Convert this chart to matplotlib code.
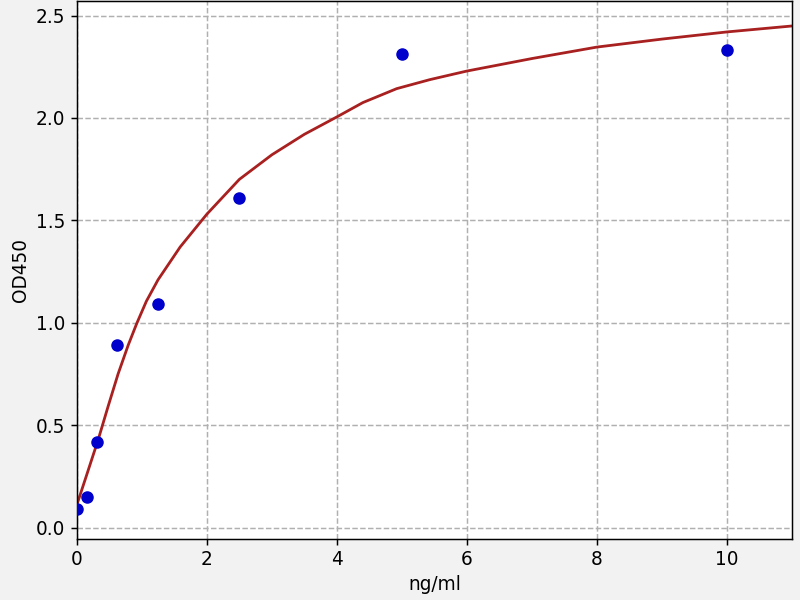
import matplotlib
matplotlib.use("Agg")
import matplotlib.pyplot as plt

# standard points
conc = [0, 0.156, 0.3125, 0.625, 1.25, 2.5, 5, 10]
od = [0.09, 0.15, 0.42, 0.89, 1.09, 1.61, 2.31, 2.33]

# fitted curve
curve_x = [0, 0.15, 0.33, 0.48, 0.635, 0.79, 0.92, 1.07, 1.25, 1.59, 2.0, 2.5,
           3.0, 3.5, 4.0, 4.4, 4.92, 5.43, 6.0, 7, 8, 9, 10, 11]
curve_y = [0.11, 0.255, 0.43, 0.59, 0.75, 0.89, 0.995, 1.105, 1.21, 1.37, 1.53, 1.70,
           1.82, 1.92, 2.005, 2.075, 2.143, 2.187, 2.229, 2.29, 2.346, 2.385, 2.42, 2.449]

s = 4 / 3  # picture looks like a 6x4.5in figure blown up to 800x600
plt.rcParams['font.size'] = 10 * s
plt.rcParams['axes.linewidth'] = 0.8 * s
plt.rcParams['xtick.major.size'] = 3.5 * s
plt.rcParams['ytick.major.size'] = 3.5 * s
plt.rcParams['xtick.major.width'] = 0.8 * s
plt.rcParams['ytick.major.width'] = 0.8 * s

fig = plt.figure(figsize=(8, 6), dpi=100, facecolor='#f2f2f2')
ax = fig.add_axes([0.096, 0.102, 0.894, 0.896])
ax.set_facecolor('white')

ax.plot(curve_x, curve_y, color='#a82020', lw=1.5 * s, zorder=2)
ax.plot(conc, od, 'o', color='#0000cd', ms=6 * s, zorder=3)

ax.set_xlim(0, 11)
ax.set_ylim(-0.055, 2.57)
ax.set_xticks([0, 2, 4, 6, 8, 10])
ax.set_yticks([0.0, 0.5, 1.0, 1.5, 2.0, 2.5])
ax.grid(True, linestyle='--', color='#b0b0b0', lw=0.8 * s)
ax.set_axisbelow(True)
ax.set_xlabel('ng/ml')
ax.set_ylabel('OD450')

fig.savefig('out.png', dpi=100, facecolor=fig.get_facecolor())
